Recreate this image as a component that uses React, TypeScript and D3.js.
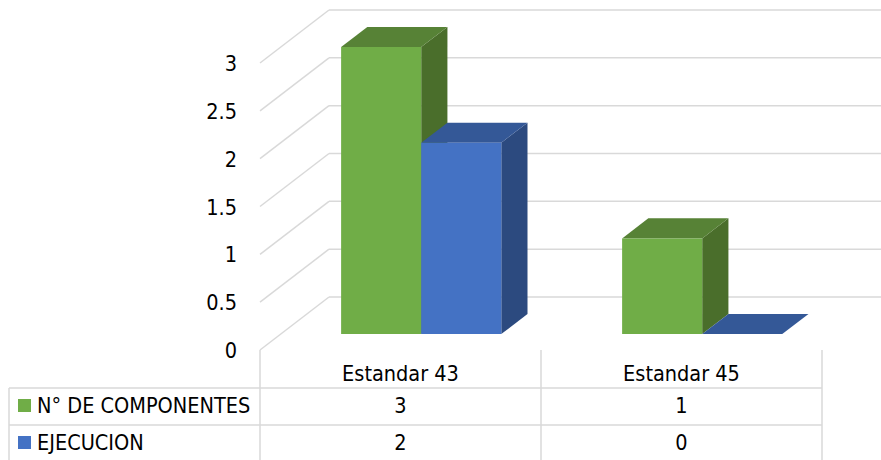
import React from "react";
import * as d3 from "d3";

const categories = ["Estandar 43", "Estandar 45"];
const seriesNames = ["N° DE COMPONENTES", "EJECUCION"];
const componentes = [3, 1];
const ejecucion = [2, 0];
const yTicks = [0, 0.5, 1, 1.5, 2, 2.5, 3];

const width = 881;
const height = 460;

// oblique projection for the 3d look
const depthX = 69;
const depthY = 53;
const barFront = 0.3;
const barBack = 0.68;

const colors = [
  { front: "#70ad47", top: "#578236", side: "#4a6e2b" },
  { front: "#4472c4", top: "#345897", side: "#2c4a7f" },
];

const font = "'Liberation Sans Narrow', 'DejaVu Sans Condensed', 'Liberation Sans', sans-serif";
const fs = 21.5;
const grid = "#d9d9d9";

const App = () => {
  const values = [componentes, ejecucion];

  const y = d3.scaleLinear().domain([0, 3]).range([350, 63]);
  const x0 = d3
    .scaleBand()
    .domain(categories)
    .range([260, 822])
    .paddingInner(0.43)
    .paddingOuter(0.215);
  const x1 = d3.scaleBand().domain(seriesNames).range([0, x0.bandwidth()]);

  const pt = (x, yy, d) => [x + depthX * d, yy - depthY * d];
  const poly = (pts) => d3.line()(pts) + "Z";

  const step = x0.step();
  const left = x0.range()[0];
  const colEdges = d3.range(categories.length + 1).map((i) => left + i * step);
  const rowLines = [388, 425, 462];
  const rowMid = [406, 443];

  return (
    <svg
      width={width}
      height={height}
      style={{ position: "absolute", left: 0, top: 0, background: "#fff" }}
      fontFamily={font}
    >
      {/* walls */}
      {yTicks.map((t) => {
        const a = pt(left, y(t), 0);
        const b = pt(left, y(t), 1);
        return (
          <g key={t}>
            <path d={d3.line()([a, b])} stroke={grid} strokeWidth={1.5} fill="none" />
            <line x1={b[0]} y1={b[1]} x2={width} y2={b[1]} stroke={grid} strokeWidth={1.5} />
            <text
              x={237}
              y={y(t) + 2}
              textAnchor="end"
              dominantBaseline="middle"
              fontSize={fs}
              fill="#000"
            >
              {t}
            </text>
          </g>
        );
      })}

      {/* bars */}
      {categories.map((c, ci) => (
        <g key={c}>
          {seriesNames.map((s, si) => {
            const v = values[si][ci];
            const xa = x0(c) + x1(s);
            const xb = xa + x1.bandwidth();
            const yv = y(v);
            const y0 = y(0);
            const col = colors[si];
            return (
              <g key={s}>
                {v > 0 && (
                  <path
                    d={poly([pt(xb, yv, barFront), pt(xb, y0, barFront), pt(xb, y0, barBack), pt(xb, yv, barBack)])}
                    fill={col.side}
                  />
                )}
                <path
                  d={poly([pt(xa, yv, barFront), pt(xb, yv, barFront), pt(xb, yv, barBack), pt(xa, yv, barBack)])}
                  fill={col.top}
                />
                {v > 0 && (
                  <path
                    d={poly([pt(xa, yv, barFront), pt(xb, yv, barFront), pt(xb, y0, barFront), pt(xa, y0, barFront)])}
                    fill={col.front}
                  />
                )}
              </g>
            );
          })}
        </g>
      ))}

      {/* data table */}
      {colEdges.map((x, i) => (
        <line key={i} x1={x} y1={350} x2={x} y2={height} stroke={grid} strokeWidth={1.5} />
      ))}
      <line x1={9} y1={rowLines[0]} x2={9} y2={height} stroke={grid} strokeWidth={1.5} />
      {rowLines.map((ly, i) => (
        <line key={i} x1={9} y1={ly} x2={colEdges[colEdges.length - 1]} y2={ly} stroke={grid} strokeWidth={1.5} />
      ))}
      {categories.map((c) => (
        <text
          key={c}
          x={x0(c) + x0.bandwidth() / 2}
          y={375}
          textAnchor="middle"
          dominantBaseline="middle"
          fontSize={fs}
        >
          {c}
        </text>
      ))}
      {seriesNames.map((s, si) => (
        <g key={s}>
          <rect x={18} y={rowMid[si] - 7} width={13} height={13} fill={colors[si].front} />
          <text x={37} y={rowMid[si] + 1} dominantBaseline="middle" fontSize={fs}>
            {s}
          </text>
          {categories.map((c, ci) => (
            <text
              key={c}
              x={x0(c) + x0.bandwidth() / 2}
              y={rowMid[si] + 1}
              textAnchor="middle"
              dominantBaseline="middle"
              fontSize={fs}
            >
              {values[si][ci]}
            </text>
          ))}
        </g>
      ))}
    </svg>
  );
};

export default App;
